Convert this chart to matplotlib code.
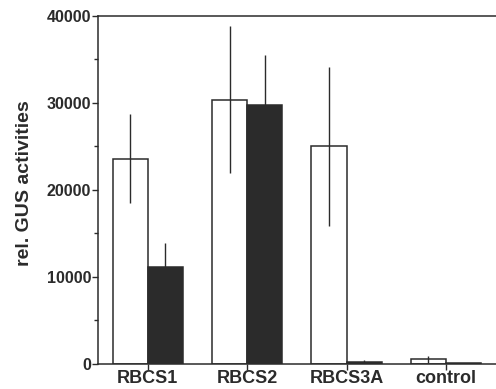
import matplotlib.pyplot as plt
from matplotlib.ticker import MultipleLocator
import numpy as np

plt.rcParams['font.family'] = ['Liberation Sans', 'DejaVu Sans']
plt.rcParams['font.weight'] = 'bold'

constructs = ['RBCS1', 'RBCS2', 'RBCS3A', 'control']
white_vals = [23600, 30400, 25000, 550]
white_err = [5100, 8400, 9100, 380]
black_vals = [11200, 29800, 250, 130]
black_err = [2700, 5700, 250, 0]

ink = '#2b2b2b'
fig = plt.figure(figsize=(4.96, 3.89), dpi=100)
ax = fig.add_axes([0.198, 0.0643, 0.801, 0.8946])

x = np.arange(len(constructs))
w = 0.353
ax.bar(x - w / 2, white_vals, w, color='white', edgecolor=ink, linewidth=1.1,
       yerr=white_err, error_kw=dict(ecolor=ink, elinewidth=1.0, capsize=0))
ax.bar(x + w / 2, black_vals, w, color=ink, edgecolor=ink, linewidth=1.1,
       yerr=black_err, error_kw=dict(ecolor=ink, elinewidth=1.0, capsize=0))

ax.set_xlim(-0.5, 3.5)
ax.set_ylim(0, 40000)
ax.set_xticks(x)
ax.set_xticklabels(constructs, fontsize=13, fontweight='bold', color=ink)
ax.yaxis.set_major_locator(MultipleLocator(10000))
ax.yaxis.set_minor_locator(MultipleLocator(5000))
ax.tick_params(axis='y', which='major', length=4, width=1, colors=ink,
               labelsize=11.5, pad=1)
ax.tick_params(axis='y', which='minor', length=3, width=1, colors=ink)
ax.tick_params(axis='x', length=4, width=1, colors=ink, pad=0)
for lab in ax.get_yticklabels():
    lab.set_fontweight('bold')
ax.set_ylabel('rel. GUS activities', fontsize=14, fontweight='bold',
              color=ink)
ax.yaxis.set_label_coords(-0.165, 0.52)

for side in ['left', 'bottom', 'top']:
    ax.spines[side].set_color(ink)
    ax.spines[side].set_linewidth(1.1)
ax.spines['right'].set_visible(False)

fig.savefig('out.png', dpi=100)
